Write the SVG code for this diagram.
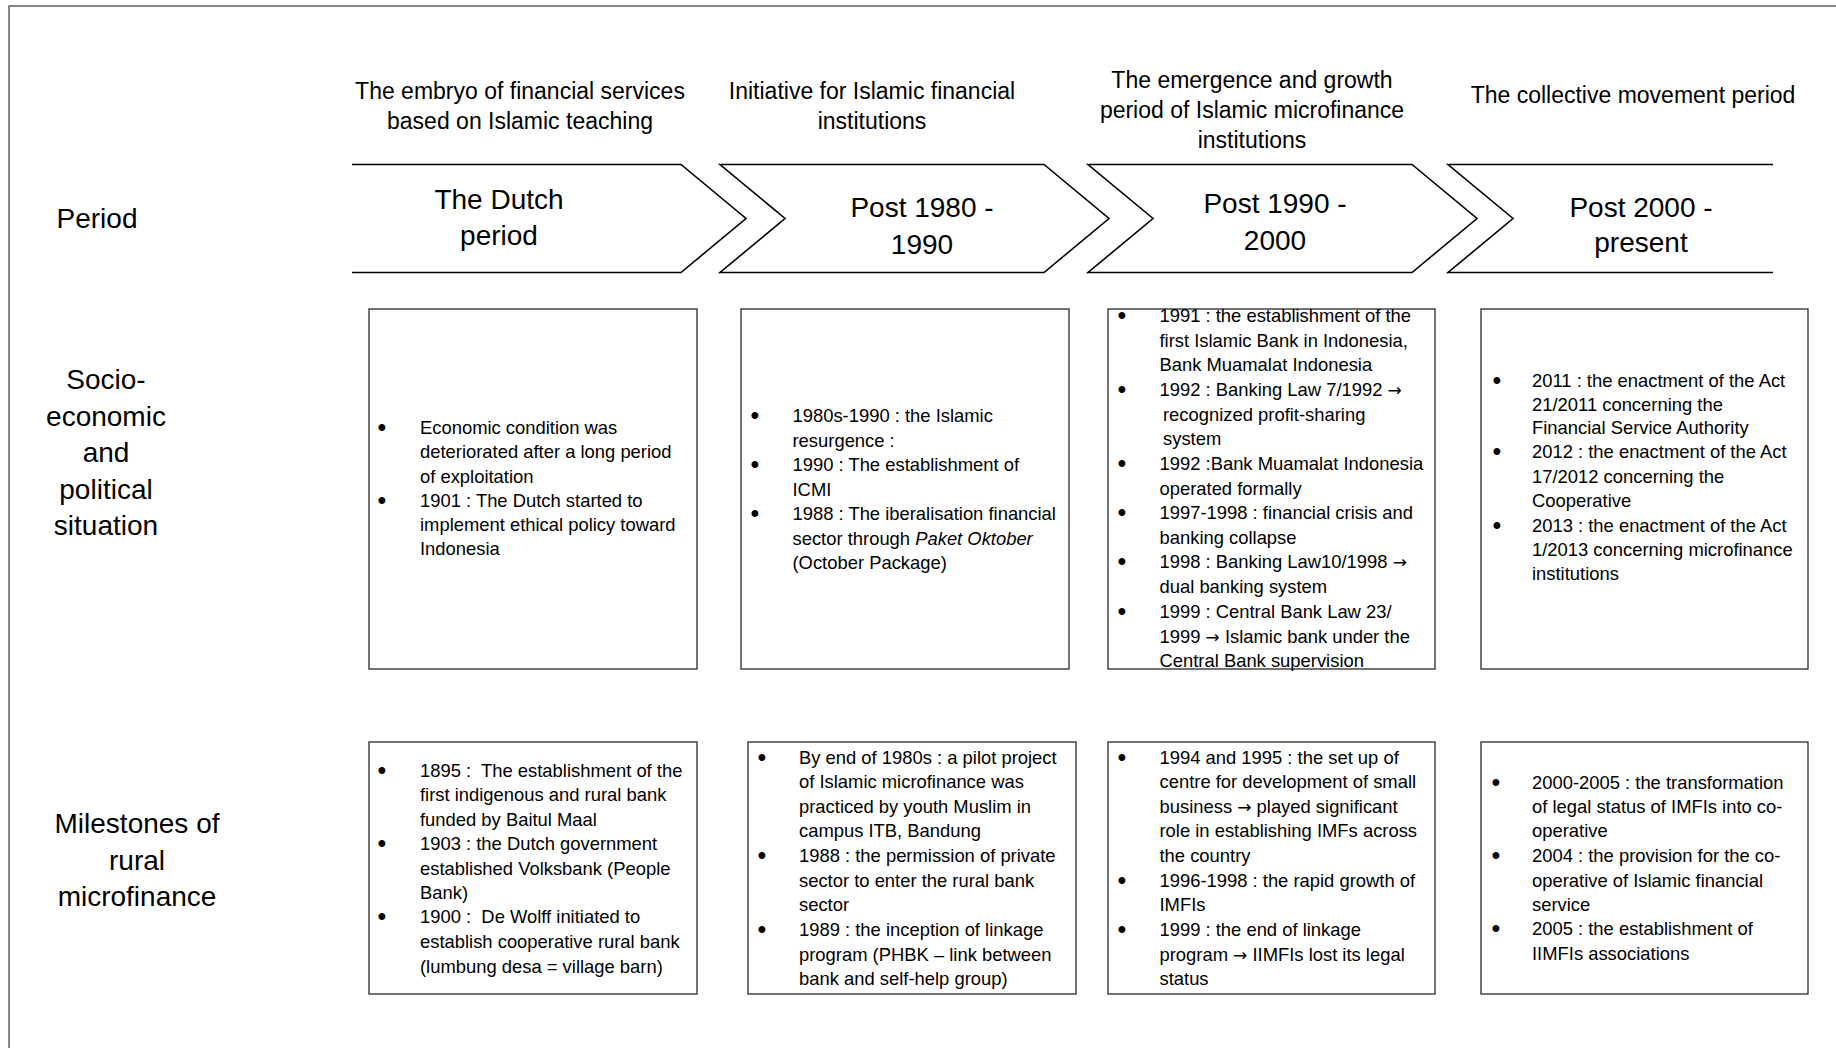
<svg xmlns="http://www.w3.org/2000/svg" width="1836" height="1048" viewBox="0 0 1836 1048">
  <style>
    text { font-family: "Liberation Sans", Arial, sans-serif; fill: #000; }
    .hdr { font-size: 23px; text-anchor: middle; }
    .lbl { font-size: 28px; text-anchor: middle; }
    .chv { font-size: 28px; text-anchor: middle; }
    .itm { font-size: 18.4px; }
    .bul { font-size: 25px; text-anchor: middle; }
    .ar { font-family: "DejaVu Sans", sans-serif; font-size: 17px; }
    .box { fill: #fff; stroke: #2a2a2a; stroke-width: 1.3; }
    .arrow { fill: #fff; stroke: #000; stroke-width: 1.6; stroke-linejoin: miter; }
    .frame { fill: #fff; stroke: #555; stroke-width: 1.4; }
  </style>

  <!-- page frame -->
  <rect class="frame" x="9" y="6" width="1840" height="1060"/>

  <!-- row labels -->
  <g id="label-period">
    <text class="lbl" x="97" y="228">Period</text>
  </g>
  <g id="label-socio">
    <text class="lbl" x="106" y="389">Socio-</text>
    <text class="lbl" x="106" y="425.5">economic</text>
    <text class="lbl" x="106" y="462">and</text>
    <text class="lbl" x="106" y="498.5">political</text>
    <text class="lbl" x="106" y="535">situation</text>
  </g>
  <g id="label-milestones">
    <text class="lbl" x="137" y="833">Milestones of</text>
    <text class="lbl" x="137" y="869.5">rural</text>
    <text class="lbl" x="137" y="906">microfinance</text>
  </g>

  <!-- period headings -->
  <g id="heading-1">
    <text class="hdr" x="520" y="99">The embryo of financial services</text>
    <text class="hdr" x="520" y="129">based on Islamic teaching</text>
  </g>
  <g id="heading-2">
    <text class="hdr" x="872" y="99">Initiative for Islamic financial</text>
    <text class="hdr" x="872" y="129">institutions</text>
  </g>
  <g id="heading-3">
    <text class="hdr" x="1252" y="88">The emergence and growth</text>
    <text class="hdr" x="1252" y="118">period of Islamic microfinance</text>
    <text class="hdr" x="1252" y="148">institutions</text>
  </g>
  <g id="heading-4">
    <text class="hdr" x="1633" y="103">The collective movement period</text>
  </g>

  <!-- timeline chevrons -->
  <g id="connectors">
    <g id="chevron-1">
      <polyline class="arrow" points="352,164.5 681,164.5 746,218.5 681,272.5 352,272.5"/>
      <text class="chv" x="499" y="208.5">The Dutch</text>
      <text class="chv" x="499" y="245">period</text>
    </g>
    <g id="chevron-2">
      <polygon class="arrow" points="720,164.5 1044,164.5 1109,218.5 1044,272.5 720,272.5 785,218.5"/>
      <text class="chv" x="922" y="217">Post 1980 -</text>
      <text class="chv" x="922" y="254">1990</text>
    </g>
    <g id="chevron-3">
      <polygon class="arrow" points="1088,164.5 1412,164.5 1477,218.5 1412,272.5 1088,272.5 1153,218.5"/>
      <text class="chv" x="1275" y="213">Post 1990 -</text>
      <text class="chv" x="1275" y="250">2000</text>
    </g>
    <g id="chevron-4">
      <polyline class="arrow" points="1773,164.5 1448,164.5 1513,218.5 1448,272.5 1773,272.5"/>
      <text class="chv" x="1641" y="217">Post 2000 -</text>
      <text class="chv" x="1641" y="252">present</text>
    </g>
  </g>

  <!-- socio-economic and political situation -->
  <g id="socio-1">
    <rect class="box" x="369" y="309" width="328" height="360"/>
    <text class="bul" x="382" y="436">•</text>
    <text class="bul" x="382" y="509">•</text>
    <text class="itm" x="420" y="434">Economic condition was</text>
    <text class="itm" x="420" y="458">deteriorated after a long period</text>
    <text class="itm" x="420" y="482.5">of exploitation</text>
    <text class="itm" x="420" y="507">1901 : The Dutch started to</text>
    <text class="itm" x="420" y="531">implement ethical policy toward</text>
    <text class="itm" x="420" y="555">Indonesia</text>
  </g>

  <g id="socio-2">
    <rect class="box" x="741" y="309" width="328" height="360"/>
    <text class="bul" x="755" y="424">•</text>
    <text class="bul" x="755" y="473">•</text>
    <text class="bul" x="755" y="522">•</text>
    <text class="itm" x="792.5" y="422">1980s-1990 : the Islamic</text>
    <text class="itm" x="792.5" y="446.5">resurgence :</text>
    <text class="itm" x="792.5" y="471">1990 : The establishment of</text>
    <text class="itm" x="792.5" y="495.5">ICMI</text>
    <text class="itm" x="792.5" y="520">1988 : The iberalisation financial</text>
    <text class="itm" x="792.5" y="544.5">sector through <tspan font-style="italic">Paket Oktober</tspan></text>
    <text class="itm" x="792.5" y="569">(October Package)</text>
  </g>

  <g id="socio-3">
    <rect class="box" x="1108" y="309" width="327" height="360"/>
    <text class="bul" x="1122" y="324">•</text>
    <text class="bul" x="1122" y="398">•</text>
    <text class="bul" x="1122" y="472">•</text>
    <text class="bul" x="1122" y="521">•</text>
    <text class="bul" x="1122" y="570">•</text>
    <text class="bul" x="1122" y="620">•</text>
    <text class="itm" x="1159.5" y="322">1991 : the establishment of the</text>
    <text class="itm" x="1159.5" y="346.5">first Islamic Bank in Indonesia,</text>
    <text class="itm" x="1159.5" y="371">Bank Muamalat Indonesia</text>
    <text class="itm" x="1159.5" y="396">1992 : Banking Law 7/1992 <tspan class="ar">→</tspan></text>
    <text class="itm" x="1163" y="420.5">recognized profit-sharing</text>
    <text class="itm" x="1163" y="445">system</text>
    <text class="itm" x="1159.5" y="470">1992 :Bank Muamalat Indonesia</text>
    <text class="itm" x="1159.5" y="494.5">operated formally</text>
    <text class="itm" x="1159.5" y="519">1997-1998 : financial crisis and</text>
    <text class="itm" x="1159.5" y="543.5">banking collapse</text>
    <text class="itm" x="1159.5" y="568">1998 : Banking Law10/1998 <tspan class="ar">→</tspan></text>
    <text class="itm" x="1159.5" y="593">dual banking system</text>
    <text class="itm" x="1159.5" y="618">1999 : Central Bank Law 23/</text>
    <text class="itm" x="1159.5" y="642.5">1999 <tspan class="ar">→</tspan> Islamic bank under the</text>
    <text class="itm" x="1159.5" y="667">Central Bank supervision</text>
  </g>

  <g id="socio-4">
    <rect class="box" x="1481" y="309" width="327" height="360"/>
    <text class="bul" x="1497" y="389">•</text>
    <text class="bul" x="1497" y="460">•</text>
    <text class="bul" x="1497" y="534">•</text>
    <text class="itm" x="1532" y="387">2011 : the enactment of the Act</text>
    <text class="itm" x="1532" y="410.5">21/2011 concerning the</text>
    <text class="itm" x="1532" y="434">Financial Service Authority</text>
    <text class="itm" x="1532" y="458">2012 : the enactment of the Act</text>
    <text class="itm" x="1532" y="482.5">17/2012 concerning the</text>
    <text class="itm" x="1532" y="507">Cooperative</text>
    <text class="itm" x="1532" y="532">2013 : the enactment of the Act</text>
    <text class="itm" x="1532" y="556">1/2013 concerning microfinance</text>
    <text class="itm" x="1532" y="580">institutions</text>
  </g>

  <!-- milestones of rural microfinance -->
  <g id="milestone-1">
    <rect class="box" x="369" y="742" width="328" height="252"/>
    <text class="bul" x="382" y="779">•</text>
    <text class="bul" x="382" y="852">•</text>
    <text class="bul" x="382" y="925">•</text>
    <text class="itm" x="420" y="777" xml:space="preserve">1895 :  The establishment of the</text>
    <text class="itm" x="420" y="801">first indigenous and rural bank</text>
    <text class="itm" x="420" y="825.5">funded by Baitul Maal</text>
    <text class="itm" x="420" y="850">1903 : the Dutch government</text>
    <text class="itm" x="420" y="874.5">established Volksbank (People</text>
    <text class="itm" x="420" y="898.5">Bank)</text>
    <text class="itm" x="420" y="923" xml:space="preserve">1900 :  De Wolff initiated to</text>
    <text class="itm" x="420" y="948">establish cooperative rural bank</text>
    <text class="itm" x="420" y="972.5">(lumbung desa = village barn)</text>
  </g>

  <g id="milestone-2">
    <rect class="box" x="748" y="742" width="328" height="252"/>
    <text class="bul" x="762" y="765.5">•</text>
    <text class="bul" x="762" y="864">•</text>
    <text class="bul" x="762" y="938">•</text>
    <text class="itm" x="799" y="763.5">By end of 1980s : a pilot project</text>
    <text class="itm" x="799" y="788">of Islamic microfinance was</text>
    <text class="itm" x="799" y="812.5">practiced by youth Muslim in</text>
    <text class="itm" x="799" y="837">campus ITB, Bandung</text>
    <text class="itm" x="799" y="862">1988 : the permission of private</text>
    <text class="itm" x="799" y="886.5">sector to enter the rural bank</text>
    <text class="itm" x="799" y="911">sector</text>
    <text class="itm" x="799" y="936">1989 : the inception of linkage</text>
    <text class="itm" x="799" y="960.5">program (PHBK – link between</text>
    <text class="itm" x="799" y="985">bank and self-help group)</text>
  </g>

  <g id="milestone-3">
    <rect class="box" x="1108" y="742" width="327" height="252"/>
    <text class="bul" x="1122" y="765.5">•</text>
    <text class="bul" x="1122" y="888.5">•</text>
    <text class="bul" x="1122" y="938">•</text>
    <text class="itm" x="1159.5" y="763.5">1994 and 1995 : the set up of</text>
    <text class="itm" x="1159.5" y="788">centre for development of small</text>
    <text class="itm" x="1159.5" y="812.5">business <tspan class="ar">→</tspan> played significant</text>
    <text class="itm" x="1159.5" y="837">role in establishing IMFs across</text>
    <text class="itm" x="1159.5" y="862">the country</text>
    <text class="itm" x="1159.5" y="886.5">1996-1998 : the rapid growth of</text>
    <text class="itm" x="1159.5" y="911">IMFIs</text>
    <text class="itm" x="1159.5" y="936">1999 : the end of linkage</text>
    <text class="itm" x="1159.5" y="960.5">program <tspan class="ar">→</tspan> IIMFIs lost its legal</text>
    <text class="itm" x="1159.5" y="985">status</text>
  </g>

  <g id="milestone-4">
    <rect class="box" x="1481" y="742" width="327" height="252"/>
    <text class="bul" x="1496" y="790.5">•</text>
    <text class="bul" x="1496" y="864">•</text>
    <text class="bul" x="1496" y="937">•</text>
    <text class="itm" x="1532" y="788.5">2000-2005 : the transformation</text>
    <text class="itm" x="1532" y="812.5">of legal status of IMFIs into co-</text>
    <text class="itm" x="1532" y="837">operative</text>
    <text class="itm" x="1532" y="862">2004 : the provision for the co-</text>
    <text class="itm" x="1532" y="886.5">operative of Islamic financial</text>
    <text class="itm" x="1532" y="910.5">service</text>
    <text class="itm" x="1532" y="935">2005 : the establishment of</text>
    <text class="itm" x="1532" y="960">IIMFIs associations</text>
  </g>
</svg>
